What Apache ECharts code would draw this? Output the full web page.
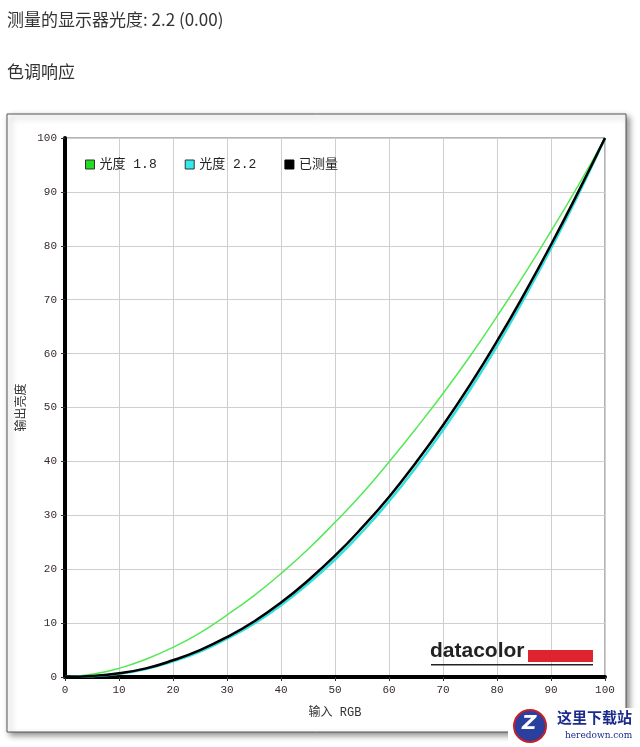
<!DOCTYPE html>
<html>
<head>
<meta charset="utf-8">
<script src="https://cdn.jsdelivr.net/npm/echarts@6/dist/echarts.min.js"></script>
<style>
  html, body { margin: 0; padding: 0; background: #fff; }
  #chart { width: 640px; height: 747px; }
</style>
</head>
<body>
<div id="chart"></div>
<script>
// 输入 RGB 0..100，每 5 一个点
var inputRGB = [0, 5, 10, 15, 20, 25, 30, 35, 40, 45, 50, 55, 60, 65, 70, 75, 80, 85, 90, 95, 100];
var gamma18 = [0, 0.5, 1.6, 3.3, 5.5, 8.2, 11.5, 15.1, 19.2, 23.7, 28.7, 34.0, 39.9, 46.1, 52.6, 59.5, 66.9, 74.6, 82.7, 91.1, 100];
var gamma22 = [0, 0.15, 0.6, 1.5, 2.9, 4.7, 7.1, 9.9, 13.3, 17.3, 21.8, 26.9, 32.6, 38.9, 45.8, 53.3, 61.4, 70.2, 79.5, 89.4, 100];
var measured = [0, 0.2, 0.7, 1.6, 3.1, 5.0, 7.4, 10.3, 13.8, 17.9, 22.5, 27.7, 33.4, 39.8, 46.7, 54.2, 62.3, 71.0, 80.2, 89.9, 100];
var tickLabels = ['0', '10', '20', '30', '40', '50', '60', '70', '80', '90', '100'];

function pairs(ys) {
  return inputRGB.map(function (x, i) { return [x, ys[i]]; });
}

var chart = echarts.init(document.getElementById('chart'));

var option = {
  animation: false,
  backgroundColor: '#fff',
  graphic: [
    {
      type: 'text', left: 7, top: 11, z: 10,
      style: { text: '测量的显示器光度: 2.2 (0.00)', fill: '#333', font: '17px "Noto Sans CJK SC", sans-serif' }
    },
    {
      type: 'text', left: 7, top: 63, z: 10,
      style: { text: '色调响应', fill: '#333', font: '17px "Noto Sans CJK SC", sans-serif' }
    },
    {
      type: 'rect', z: -10,
      shape: { x: 7, y: 114, width: 619, height: 618 },
      style: { fill: '#fff', stroke: '#555', lineWidth: 1, shadowBlur: 6, shadowOffsetX: 3, shadowOffsetY: 3, shadowColor: 'rgba(0,0,0,0.45)' }
    },
    {
      type: 'text', left: 430, top: 641, z: 10,
      style: { text: 'datacolor', fill: '#222', font: 'bold 21px "Liberation Sans", sans-serif' }
    },
    {
      type: 'rect', z: 10,
      shape: { x: 528, y: 650, width: 65, height: 12 },
      style: { fill: '#e0242f' }
    },
    {
      type: 'rect', z: 10,
      shape: { x: 431, y: 664, width: 162, height: 1.5 },
      style: { fill: '#222' }
    },
    {
      type: 'rect', z: 20,
      shape: { x: 508, y: 708, width: 132, height: 39 },
      style: { fill: '#fff' }
    },
    {
      type: 'circle', z: 21,
      shape: { cx: 530, cy: 726, r: 16 },
      style: { fill: '#2b3f9e', stroke: '#c8202a', lineWidth: 2 }
    },
    {
      type: 'text', z: 22, left: 522, top: 714,
      style: { text: 'Z', fill: '#fff', font: 'bold italic 20px "DejaVu Sans", sans-serif' }
    },
    {
      type: 'text', z: 22, left: 557, top: 710,
      style: { text: '这里下载站', fill: '#1c2c8c', font: 'bold 15px "Noto Sans CJK SC", serif' }
    },
    {
      type: 'text', z: 22, left: 565, top: 731,
      style: { text: 'heredown.com', fill: '#1c2c8c', font: '9px "DejaVu Serif", serif' }
    }
  ],
  legend: {
    left: 80, top: 153,
    itemWidth: 9, itemHeight: 9,
    itemGap: 28,
    icon: 'rect',
    textStyle: { fontFamily: '"Liberation Mono", "Noto Sans CJK SC", monospace', fontSize: 13, color: '#222' },
    data: [
      { name: '光度 1.8', itemStyle: { color: '#22dd22', borderColor: '#333', borderWidth: 1 } },
      { name: '光度 2.2', itemStyle: { color: '#33eaea', borderColor: '#333', borderWidth: 1 } },
      { name: '已测量', itemStyle: { color: '#000', borderColor: '#000', borderWidth: 1 } }
    ]
  },
  grid: {
    left: 65, right: 35, top: 138, bottom: 70,
    show: true, borderColor: '#666', borderWidth: 1, backgroundColor: 'transparent'
  },
  xAxis: {
    type: 'value', min: 0, max: 100, interval: 10,
    name: '输入 RGB', nameLocation: 'middle', nameGap: 30,
    nameTextStyle: { fontFamily: '"Liberation Mono", "Noto Sans CJK SC", monospace', fontSize: 12, color: '#333' },
    axisLine: { show: true, lineStyle: { color: '#000', width: 4 } },
    axisTick: { show: true, length: 4, lineStyle: { color: '#333', width: 1 } },
    axisLabel: {
      color: '#3a2a2a', fontFamily: '"Liberation Mono", monospace', fontSize: 11, margin: 8,
      formatter: function (v) { return tickLabels[v / 10]; }
    },
    splitLine: { show: true, lineStyle: { color: '#cfcfcf', width: 1 } }
  },
  yAxis: {
    type: 'value', min: 0, max: 100, interval: 10,
    name: '输出亮度', nameLocation: 'middle', nameGap: 38, nameRotate: 90,
    nameTextStyle: { fontFamily: '"Noto Sans CJK SC", sans-serif', fontSize: 12, color: '#333' },
    axisLine: { show: true, lineStyle: { color: '#000', width: 4 } },
    axisTick: { show: true, length: 4, lineStyle: { color: '#333', width: 1 } },
    axisLabel: {
      color: '#3a2a2a', fontFamily: '"Liberation Mono", monospace', fontSize: 11, margin: 8,
      formatter: function (v) { return tickLabels[v / 10]; }
    },
    splitLine: { show: true, lineStyle: { color: '#cfcfcf', width: 1 } }
  },
  series: [
    {
      name: '光度 1.8', type: 'line', smooth: true, showSymbol: false,
      data: pairs(gamma18),
      lineStyle: { color: '#55e855', width: 1.5 },
      itemStyle: { color: '#22dd22' }, z: 2
    },
    {
      name: '光度 2.2', type: 'line', smooth: true, showSymbol: false,
      data: pairs(gamma22),
      lineStyle: { color: '#33e0e0', width: 2.5 },
      itemStyle: { color: '#33eaea' }, z: 3
    },
    {
      name: '已测量', type: 'line', smooth: true, showSymbol: false,
      data: pairs(measured),
      lineStyle: { color: '#000', width: 2.5 },
      itemStyle: { color: '#000' }, z: 4
    }
  ]
};

chart.setOption(option);
</script>
</body>
</html>
